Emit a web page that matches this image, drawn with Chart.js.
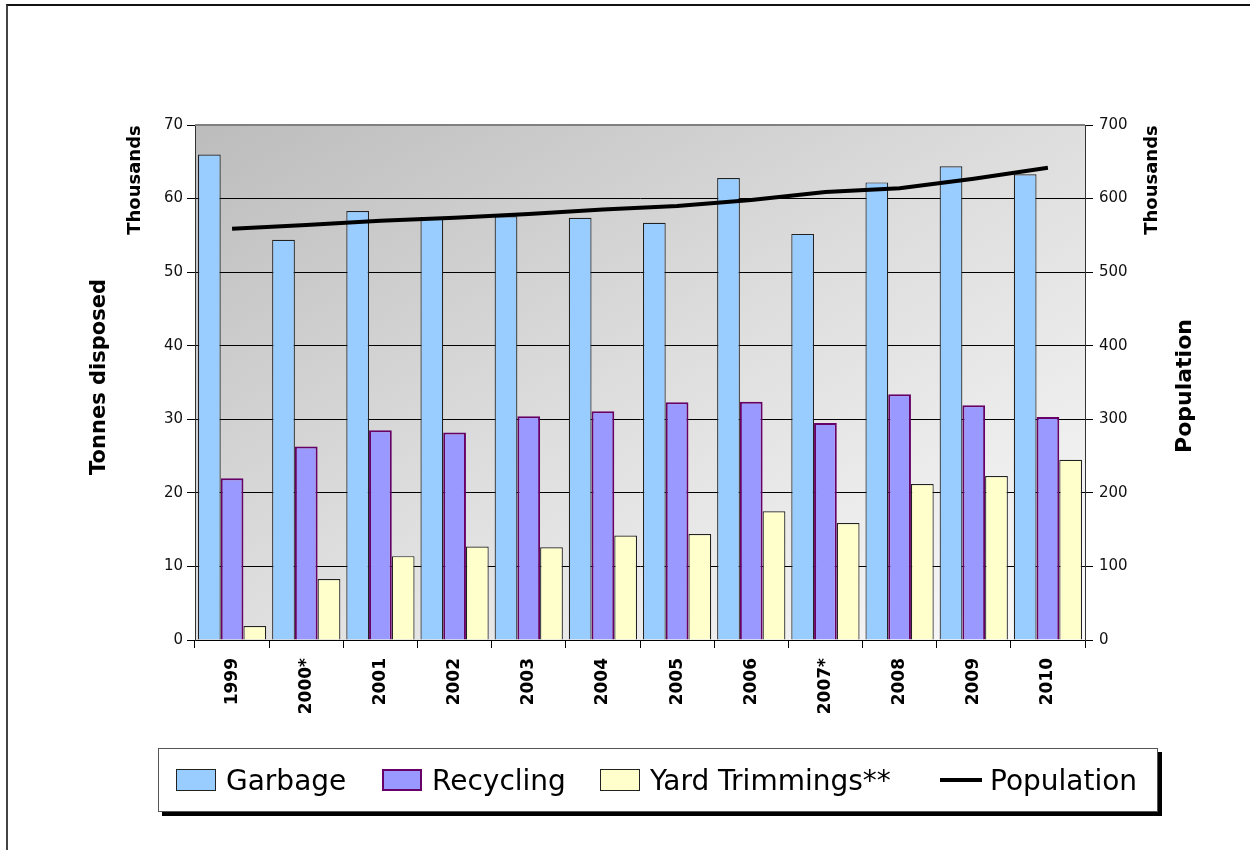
<!DOCTYPE html>
<html><head><meta charset="utf-8">
<script src="https://cdn.jsdelivr.net/npm/chart.js@4"></script>
<style>
html,body{margin:0;padding:0;background:#fff;}
#wrap{position:relative;width:1250px;height:850px;overflow:hidden;}
#frame{position:absolute;left:6px;top:4px;width:1300px;height:900px;border-left:2px solid #444;border-top:2px solid #111;box-sizing:border-box;}
#legend{position:absolute;left:158px;top:748px;width:1000px;height:64px;border:1px solid #555;background:#fff;box-shadow:4px 4px 0 #000;box-sizing:border-box;font-family:"DejaVu Sans",sans-serif;font-size:28px;color:#000;}
.item{position:absolute;top:0;height:62px;display:flex;align-items:center;}
.sw{display:inline-block;width:40px;height:22px;box-sizing:border-box;margin-right:10px;}
.ln{display:inline-block;width:42px;height:4px;background:#000;margin-right:8px;}
</style></head><body>
<div id="wrap">
<canvas id="c" width="1250" height="850"></canvas>
<div id="frame"></div>
<div id="legend">
 <div class="item" style="left:17px"><span class="sw" style="background:#99ccff;border:1.5px solid #222"></span>Garbage</div>
 <div class="item" style="left:223px"><span class="sw" style="background:#9999ff;border:2px solid #660066"></span>Recycling</div>
 <div class="item" style="left:441px"><span class="sw" style="background:#ffffcc;border:1.5px solid #222"></span>Yard Trimmings**</div>
 <div class="item" style="left:781px"><span class="ln"></span>Population</div>
</div>
</div>
<script>
const years = ["1999","2000*","2001","2002","2003","2004","2005","2006","2007*","2008","2009","2010"];
const garbage = [66.0,54.4,58.3,57.5,57.6,57.4,56.7,62.8,55.2,62.2,64.4,63.3];
const recycling = [22.0,26.3,28.5,28.2,30.4,31.1,32.3,32.4,29.5,33.4,31.9,30.3];
const yard = [1.9,8.3,11.4,12.7,12.6,14.2,14.4,17.5,15.9,21.2,22.3,24.5];
const population = [559,564,570,574,579,585,590,598,609,614,627,642];
const leftTicks = [0,10,20,30,40,50,60,70];
const rightTicks = [0,100,200,300,400,500,600,700];

const bgPlugin = {
  id:'bg',
  beforeDraw(chart){
    const {ctx, chartArea:a} = chart;
    const w = a.right-a.left, h = a.bottom-a.top;
    const k = 2*w*h/(h*h+w*w);
    const g = ctx.createLinearGradient(a.left, a.top, a.left + h*k, a.top + w*k);
    g.addColorStop(0,'#bcbcbc');
    g.addColorStop(0.5,'#dedede');
    g.addColorStop(1,'#fafafa');
    ctx.save();
    ctx.fillStyle = g;
    ctx.fillRect(a.left, a.top, w, h);
    ctx.restore();
  },
  afterDraw(chart){
    const {ctx, chartArea:a} = chart;
    ctx.save();
    ctx.strokeStyle = '#808080';
    ctx.lineWidth = 2;
    ctx.beginPath();
    ctx.moveTo(a.left, a.top); ctx.lineTo(a.right, a.top);
    ctx.stroke();
    ctx.fillStyle = '#000';
    ctx.textAlign = 'center';
    ctx.textBaseline = 'middle';
    function vtext(t, x, y, font){
      ctx.save(); ctx.translate(x,y); ctx.rotate(-Math.PI/2);
      ctx.font = font; ctx.fillText(t,0,0); ctx.restore();
    }
    vtext('Thousands', 135, 180, 'bold 18px "DejaVu Sans"');
    vtext('Thousands', 1152, 180, 'bold 18px "DejaVu Sans"');
    vtext('Tonnes disposed', 100, 377, 'bold 21px "DejaVu Sans"');
    vtext('Population', 1185, 386, 'bold 22px "DejaVu Sans"');
    ctx.restore();
  }
};

new Chart(document.getElementById('c'), {
  data:{
    labels: years,
    datasets:[
      {type:'line', label:'Population', data:population, yAxisID:'y2', borderColor:'#000', borderWidth:4, pointRadius:0, fill:false, order:0},
      {type:'bar', label:'Garbage', data:garbage, yAxisID:'y', backgroundColor:'#99ccff', borderColor:'#222', borderWidth:1.2, order:1},
      {type:'bar', label:'Recycling', data:recycling, yAxisID:'y', backgroundColor:'#9999ff', borderColor:'#660066', borderWidth:2, order:1},
      {type:'bar', label:'Yard Trimmings**', data:yard, yAxisID:'y', backgroundColor:'#ffffcc', borderColor:'#222', borderWidth:1.2, order:1}
    ]
  },
  options:{
    responsive:false, animation:false,
    layout:{padding:{left:130, right:100, top:125, bottom:125}},
    datasets:{bar:{categoryPercentage:0.92, barPercentage:1}},
    plugins:{legend:{display:false}, tooltip:{enabled:false}, title:{display:false}},
    scales:{
      x:{
        offset:true,
        grid:{display:true, drawOnChartArea:false, drawTicks:true, tickLength:8, color:'#000', offset:true},
        border:{display:true, color:'#000'},
        ticks:{color:'#000', font:{family:'"DejaVu Sans"', size:17, weight:'bold'}, minRotation:90, maxRotation:90, padding:10, autoSkip:false},
        afterFit(s){ s.height = 85; }
      },
      y:{
        position:'left', min:0, max:70,
        afterBuildTicks(s){ s.ticks = leftTicks.map(v=>({value:v})); },
        grid:{color:'#000', lineWidth:1, tickLength:8, drawTicks:true},
        border:{display:true, color:'#333'},
        ticks:{color:'#111', font:{family:'"DejaVu Sans"', size:15}, padding:4},
        afterFit(s){ s.width = 65; }
      },
      y2:{
        position:'right', min:0, max:700,
        afterBuildTicks(s){ s.ticks = rightTicks.map(v=>({value:v})); },
        grid:{drawOnChartArea:false, color:'#000', tickLength:8, drawTicks:true},
        border:{display:true, color:'#333'},
        ticks:{color:'#111', font:{family:'"DejaVu Sans"', size:15}, padding:6},
        afterFit(s){ s.width = 65; }
      }
    }
  },
  plugins:[bgPlugin]
});
</script>
</body></html>
